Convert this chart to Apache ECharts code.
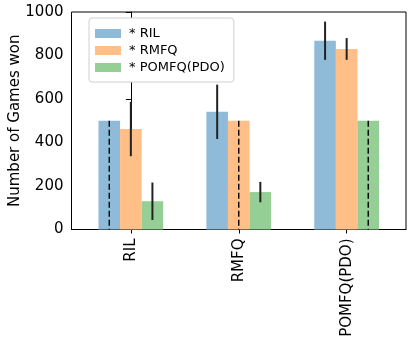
<!DOCTYPE html>
<html>
<head>
<meta charset="utf-8">
<script src="https://cdn.jsdelivr.net/npm/echarts@6/dist/echarts.min.js"></script>
<style>
  html, body { margin: 0; padding: 0; background: #fff; }
  #chart { width: 413px; height: 342px; }
</style>
</head>
<body>
<div id="chart"></div>
<script>
// categories on the x axis
const categories = ['RIL', 'RMFQ', 'POMFQ(PDO)'];
const seriesNames = ['* RIL', '* RMFQ', '* POMFQ(PDO)'];

// games won per opponent, with error (self-play shown dashed)
const rilVals = [500, 541, 868];
const rilErr = [0, 125, 88];
const rmfqVals = [462, 500, 830];
const rmfqErr = [125, 0, 50];
const pomfqVals = [130, 172, 500];
const pomfqErr = [86, 47, 0];

const yTicks = [0, 200, 400, 600, 800, 1000];

const colors = ['#8fbbd9', '#ffbf86', '#95cf95'];
const barW = 0.2;

function makeSeries(idx, vals, errs) {
    const off = (idx - 1) * barW;
    return {
        name: seriesNames[idx],
        type: 'custom',
        itemStyle: { color: colors[idx] },
        data: vals.map(function (v, i) { return [i, v, errs[i]]; }),
        renderItem: function (params, api) {
            const x = api.value(0);
            const v = api.value(1);
            const e = api.value(2);
            const tl = api.coord([x + off - barW / 2, v]);
            const br = api.coord([x + off + barW / 2, 0]);
            const mid = api.coord([x + off, v]);
            const base = api.coord([x + off, 0]);
            const children = [{
                type: 'rect',
                shape: { x: tl[0], y: tl[1], width: br[0] - tl[0], height: br[1] - tl[1] },
                style: { fill: api.visual('color') }
            }];
            if (x === idx) {
                children.push({
                    type: 'line',
                    shape: { x1: mid[0], y1: mid[1], x2: base[0], y2: base[1] },
                    style: { stroke: '#000', lineWidth: 1.4, lineDash: [6, 3] }
                });
            } else {
                const hi = api.coord([x + off, v + e]);
                const lo = api.coord([x + off, v - e]);
                children.push({
                    type: 'line',
                    shape: { x1: hi[0], y1: hi[1], x2: lo[0], y2: lo[1] },
                    style: { stroke: '#222', lineWidth: 2 }
                });
            }
            return { type: 'group', children: children };
        }
    };
}

const chart = echarts.init(document.getElementById('chart'));
const option = {
    animation: false,
    textStyle: { fontFamily: 'DejaVu Sans' },
    grid: {
        left: 71.5, right: 7, top: 12, bottom: 112.5,
        outerBoundsMode: 'none',
        show: true, borderColor: '#000', borderWidth: 1, backgroundColor: 'transparent'
    },
    legend: {
        orient: 'vertical',
        left: 89, top: 18,
        data: seriesNames,
        icon: 'rect',
        itemWidth: 26, itemHeight: 9, itemGap: 4,
        padding: [9, 9, 8, 6],
        borderColor: '#d0d0d0', borderWidth: 1, borderRadius: 3,
        backgroundColor: '#fff',
        textStyle: { fontSize: 13, color: '#000', fontFamily: 'DejaVu Sans', padding: [0, 0, 0, 3] }
    },
    xAxis: {
        type: 'value',
        min: -0.55, max: 2.55,
        splitLine: { show: false },
        axisLine: { show: true, lineStyle: { color: '#000' } },
        axisTick: { show: true, length: 4, lineStyle: { color: '#000' }, customValues: [0, 1, 2] },
        axisLabel: {
            customValues: [0, 1, 2],
            rotate: 90, margin: 9,
            fontSize: 15, color: '#000', fontFamily: 'DejaVu Sans',
            formatter: function (v) { return categories[Math.round(v)]; }
        }
    },
    yAxis: {
        type: 'value',
        min: yTicks[0], max: yTicks[yTicks.length - 1], interval: 200,
        name: 'Number of Games won',
        nameLocation: 'middle', nameGap: 49, nameMoveOverlap: false,
        nameTextStyle: { fontSize: 15, color: '#000', fontFamily: 'DejaVu Sans' },
        splitLine: { show: false },
        axisLine: { show: true, lineStyle: { color: '#000' } },
        axisTick: { show: true, length: 5, lineStyle: { color: '#000' } },
        axisLabel: {
            fontSize: 15, color: '#000', margin: 8, fontFamily: 'DejaVu Sans',
            formatter: function (v) { return String(v); }
        }
    },
    series: [
        makeSeries(0, rilVals, rilErr),
        makeSeries(1, rmfqVals, rmfqErr),
        makeSeries(2, pomfqVals, pomfqErr)
    ]
};
chart.setOption(option);
</script>
</body>
</html>
